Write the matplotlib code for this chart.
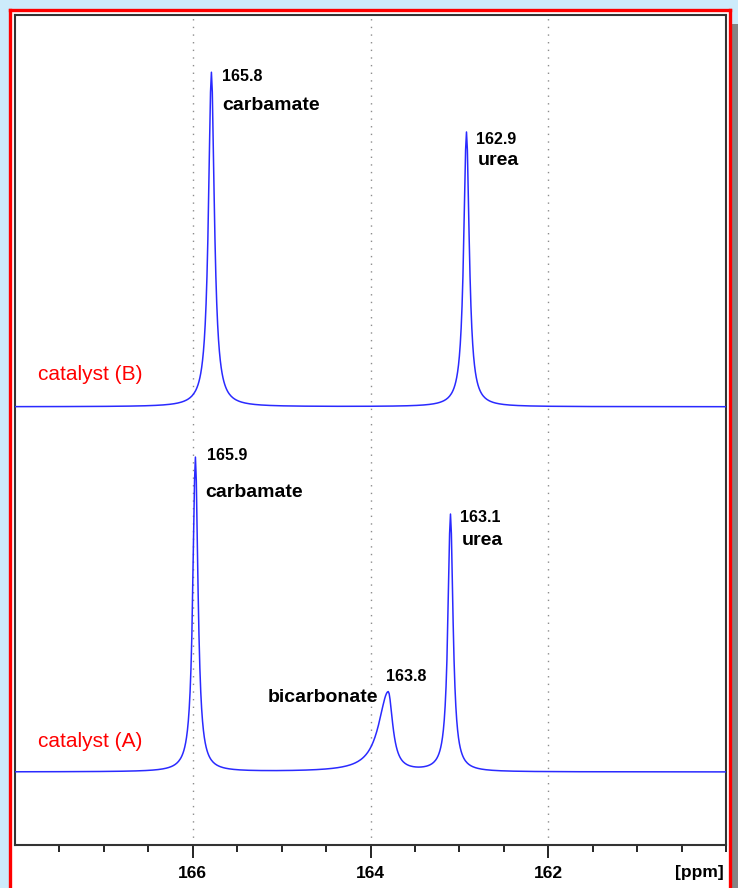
import numpy as np
import matplotlib
matplotlib.use("Agg")
import matplotlib.pyplot as plt
from matplotlib.patches import Rectangle
from matplotlib.lines import Line2D
from matplotlib.transforms import blended_transform_factory

plt.rcParams['font.family'] = ['Liberation Sans', 'DejaVu Sans']

# peak tables: position [ppm], height, half widths left/right [ppm]
b_pos = [165.79, 162.92]
b_height = [40.3, 33.1]
b_hw_left = [0.040, 0.038]
b_hw_right = [0.040, 0.038]
b_baseline = 52.8

a_pos = [165.97, 163.80, 163.10]
a_height = [37.9, 9.6, 31.0]
a_hw_left = [0.035, 0.13, 0.035]
a_hw_right = [0.035, 0.06, 0.035]
a_baseline = 8.8

major_ticks = [166, 164, 162]


def spectrum(ppm, pos, height, hw_l, hw_r, base):
    """sum of lorentzian lines (asymmetric width allowed) on a flat baseline"""
    y = np.full_like(ppm, base)
    for p, h, gl, gr in zip(pos, height, hw_l, hw_r):
        g = np.where(ppm > p, gl, gr)  # ppm axis runs right to left
        y += h * g**2 / ((ppm - p)**2 + g**2)
    return y


W, H = 738, 888
fig = plt.figure(figsize=(W / 100, H / 100), dpi=100)
fig.patch.set_facecolor('#cdebfb')

# white panel, red frame and the grey shadow strip on the right
fig.patches.append(Rectangle((9 / W, 0), 722 / W, 1 - 9 / H, transform=fig.transFigure,
                             facecolor='white', edgecolor='none', zorder=-2))
fig.patches.append(Rectangle((732 / W, 0), 6 / W, 1 - 24 / H, transform=fig.transFigure,
                             facecolor='#858585', edgecolor='none', zorder=-2))
for xs, ys in [([9.5, 9.5], [10, 888]), ([729.5, 729.5], [10, 888]), ([9.5, 729.5], [10, 10])]:
    fig.add_artist(Line2D([x / W for x in xs], [1 - y / H for y in ys],
                          transform=fig.transFigure, color='#ff0000', lw=2.4, zorder=-1))

ax = fig.add_axes([15 / W, (H - 845) / H, 711 / W, 830 / H])
ax.set_zorder(1)
ax.set_facecolor('white')

ppm = np.arange(160.0, 168.0001, 0.01)
ax.plot(ppm, spectrum(ppm, b_pos, b_height, b_hw_left, b_hw_right, b_baseline),
        color='#2a2aff', lw=1.1, zorder=3)
ax.plot(ppm, spectrum(ppm, a_pos, a_height, a_hw_left, a_hw_right, a_baseline),
        color='#2a2aff', lw=1.1, zorder=3)

for x in major_ticks:
    ax.axvline(x, color='#8c8c8c', lw=1, linestyle=(0, (1, 4.5)), zorder=1)

ax.set_xlim(168, 160)
ax.set_ylim(0, 100)
ax.set_yticks([])
ax.set_xticks(major_ticks)
ax.set_xticklabels([str(t) for t in major_ticks], fontsize=12.5, fontweight='bold')
ax.set_xticks(np.arange(160, 167.6, 0.5), minor=True)
ax.tick_params(axis='x', which='major', direction='out', length=9, width=1.2, pad=6)
ax.tick_params(axis='x', which='minor', direction='out', length=5, width=1.2)
for s in ax.spines.values():
    s.set_color('#333333')
    s.set_linewidth(1.5)

trans = blended_transform_factory(ax.transData, ax.transAxes)
ax.text(160.03, -0.033, '[ppm]', transform=trans, ha='right', va='center',
        fontsize=12.5, fontweight='bold')

num = dict(fontsize=11.5, fontweight='bold', va='center', ha='left')
name = dict(fontsize=14, fontweight='bold', va='center', ha='left')
ax.text(165.673, 92.65, '165.8', **num)
ax.text(165.673, 89.04, 'carbamate', **name)
ax.text(162.811, 85.06, '162.9', **num)
ax.text(162.789, 82.41, 'urea', **name)
ax.text(165.842, 46.87, '165.9', **num)
ax.text(165.854, 42.53, 'carbamate', **name)
ax.text(162.992, 39.40, '163.1', **num)
ax.text(162.969, 36.63, 'urea', **name)
ax.text(163.825, 20.36, '163.8', **num)
ax.text(163.915, 17.83, 'bicarbonate', fontsize=14, fontweight='bold', va='center', ha='right')

ax.text(167.746, 56.63, 'catalyst (B)', color='#ff0000', fontsize=15, va='center', ha='left')
ax.text(167.746, 12.53, 'catalyst (A)', color='#ff0000', fontsize=15, va='center', ha='left')

fig.savefig('out.png', dpi=100, facecolor=fig.get_facecolor())
